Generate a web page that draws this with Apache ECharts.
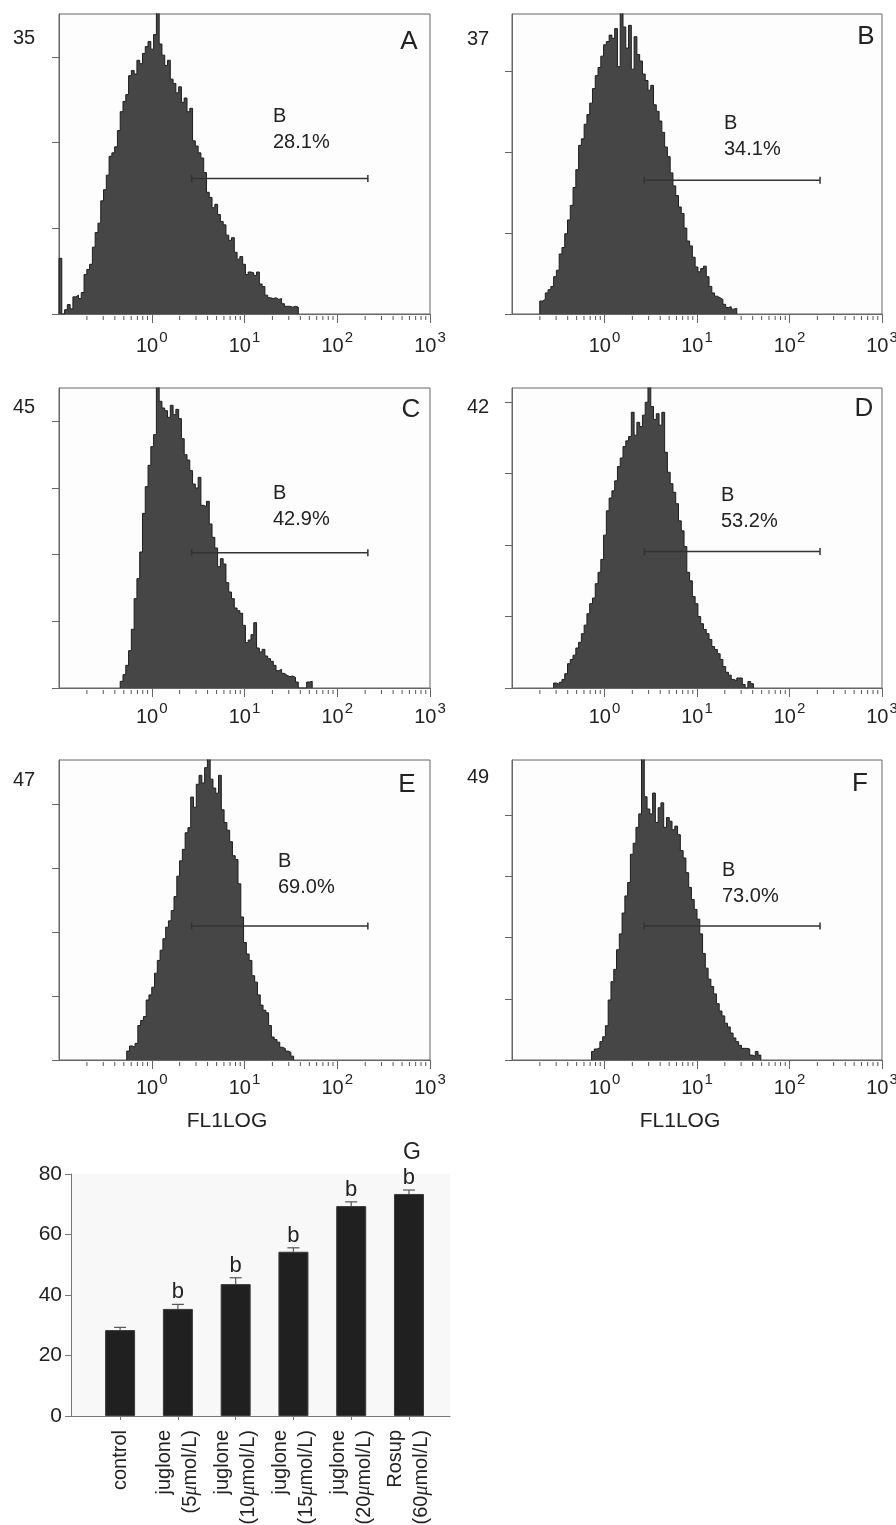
<!DOCTYPE html>
<html>
<head>
<meta charset="utf-8">
<script src="https://cdn.jsdelivr.net/npm/echarts@6/dist/echarts.min.js"></script>
<style>
html, body { margin: 0; padding: 0; background: #fff; }
#chart { width: 896px; height: 1525px; }
</style>
</head>
<body>
<div id="chart"></div>
<script>
const FONT = '"Liberation Sans", Arial, Helvetica, sans-serif'

// histogram panels: counts per bin, bins are 0.03 decade wide on the FL1LOG axis
const binStep = 0.03
const panelNames = ['A', 'B', 'C', 'D', 'E', 'F']
const yMaxes = [35, 37, 45, 42, 47, 49]
const gatePct = ['28.1%', '34.1%', '42.9%', '53.2%', '69.0%', '73.0%']
const gateLevel = [15.8, 16.5, 20.3, 19.1, 21.0, 21.9]
const gateRange = [0.43, 2.33] // log10 units
const histStart = [-1.00, -0.70, -0.34, -0.55, -0.27, -0.14]

const histA = [6.5, 0, 0.5, 1.1, 0.6, 2.0, 2.2, 1.8, 2.5, 4.6, 5.2, 5.8, 7.8, 9.5, 10.6, 13.2, 14.5, 16.2, 18.4, 18.8,
  19.5, 21.4, 23.6, 24.8, 25.6, 27.8, 28.4, 28.0, 29.6, 29.2, 30.4, 31.2, 31.8, 30.9, 32.6, 35.5, 31.5, 30.2, 29.0, 29.6,
  27.4, 26.9, 25.8, 26.5, 24.7, 25.2, 23.6, 24.0, 20.2, 19.6, 18.8, 18.2, 16.5, 14.2, 13.6, 12.4, 12.8, 11.6, 10.8, 10.4,
  9.2, 8.6, 8.9, 7.2, 6.4, 6.7, 5.8, 4.6, 4.9, 4.8, 4.5, 4.9, 3.5, 3.2, 2.2, 1.9, 1.8, 1.9, 1.7, 1.8,
  1.2, 0.9, 0.9, 0.8, 0.9, 0.8, 0]
const histB = [1.6, 1.8, 2.6, 3.0, 3.4, 4.6, 5.4, 7.4, 8.2, 9.9, 11.6, 13.4, 15.6, 17.8, 20.8, 21.6, 23.4, 24.6, 26.0, 27.8,
  29.4, 30.4, 31.8, 33.2, 33.6, 34.4, 34.0, 35.2, 30.5, 37.5, 35.4, 32.8, 35.6, 30.2, 34.2, 32.0, 31.2, 29.6, 28.8, 27.6,
  28.2, 25.8, 25.0, 23.8, 22.4, 20.6, 19.4, 17.4, 15.8, 14.6, 13.2, 12.4, 10.6, 9.0, 8.4, 7.0, 5.8, 5.2, 5.6, 5.9,
  4.6, 3.4, 2.6, 2.2, 2.0, 1.8, 1.2, 0.8, 0.9, 0.6, 0.7, 0]
const histC = [1.0, 2.0, 3.4, 5.6, 8.8, 13.4, 16.4, 20.4, 26.2, 30.2, 33.4, 36.2, 38.0, 46, 43.0, 42.0, 41.6, 40.6, 42.4, 41.0,
  41.8, 40.4, 37.4, 35.0, 34.2, 32.6, 30.6, 30.0, 31.6, 27.4, 27.2, 28.0, 24.6, 22.6, 21.0, 18.2, 19.4, 18.6, 15.8, 14.4,
  13.4, 12.0, 11.6, 11.2, 9.4, 6.8, 7.2, 8.0, 9.8, 6.0, 5.4, 5.8, 4.8, 4.4, 4.0, 3.4, 2.6, 2.8, 2.2, 1.9,
  1.7, 1.8, 1.6, 0.9, 0, 0, 0, 0.9, 1.0, 0]
const histD = [0.7, 0.5, 0.8, 1.2, 2.0, 3.4, 4.0, 4.6, 5.6, 6.4, 7.6, 8.8, 10.4, 11.8, 12.6, 14.6, 16.2, 18.0, 21.4, 24.8,
  26.6, 27.6, 29.0, 31.0, 32.2, 33.8, 34.6, 35.2, 38.6, 35.4, 37.2, 36.6, 38.2, 40.0, 42.6, 39.4, 37.6, 38.4, 36.8, 38.6,
  33.0, 30.2, 28.6, 27.4, 25.8, 23.4, 22.0, 19.8, 16.2, 15.0, 12.8, 11.8, 10.0, 9.0, 8.2, 7.6, 6.8, 5.8, 5.4, 4.8,
  4.0, 3.0, 2.2, 1.8, 1.2, 1.0, 1.4, 1.4, 0.5, 0, 0.9, 0.6, 0]
const histE = [1.4, 2.2, 2.0, 2.6, 5.4, 6.2, 6.8, 9.4, 10.2, 11.4, 13.6, 15.6, 17.2, 19.0, 20.8, 21.8, 23.4, 25.6, 28.8, 31.2,
  33.0, 35.6, 36.4, 41.2, 39.6, 43.2, 44.6, 43.4, 45.8, 47.5, 44.0, 42.6, 41.8, 44.6, 39.2, 37.2, 36.0, 34.2, 32.0, 31.4,
  27.6, 22.4, 18.4, 16.6, 15.6, 13.2, 12.2, 10.2, 8.6, 7.8, 7.4, 5.4, 3.6, 3.2, 2.8, 2.0, 1.8, 1.4, 1.2, 0.6, 0]
const histF = [1.4, 1.8, 2.0, 3.0, 3.8, 5.6, 9.8, 12.8, 14.8, 18.0, 20.6, 24.0, 26.8, 29.0, 33.6, 35.4, 38.0, 40.2, 49.5, 43.0,
  41.0, 40.2, 43.6, 38.8, 41.2, 42.0, 38.0, 39.6, 39.0, 37.6, 38.2, 36.8, 34.2, 33.0, 30.6, 28.2, 26.2, 24.6, 23.0, 20.6,
  17.4, 15.0, 13.2, 12.0, 10.8, 9.2, 8.0, 7.2, 6.0, 5.4, 4.4, 3.6, 3.0, 2.4, 1.9, 1.9, 1.8, 0.8, 0.6, 1.4, 0.8, 0]
const hists = [histA, histB, histC, histD, histE, histF]

// log axis ticks
const decades = [-1, 0, 1, 2]
const minorMults = [2, 3, 4, 5, 6, 7, 8, 9]

// panel G
const barCats = ['control', 'juglone\n(5{mu|μ}mol/L)', 'juglone\n(10{mu|μ}mol/L)', 'juglone\n(15{mu|μ}mol/L)',
  'juglone\n(20{mu|μ}mol/L)', 'Rosup\n(60{mu|μ}mol/L)']
const barVals = [28.4, 35.4, 43.6, 54.3, 69.4, 73.4]
const barSd = [0.9, 1.5, 2.1, 1.3, 1.4, 1.3]
const barSig = ['', 'b', 'b', 'b', 'b', 'b']

// layout
const grids = [
  { left: 59, top: 14, width: 371, height: 300 },
  { left: 512, top: 14, width: 370, height: 300 },
  { left: 59, top: 388, width: 371, height: 300 },
  { left: 512, top: 388, width: 370, height: 300 },
  { left: 59, top: 760, width: 371, height: 300 },
  { left: 512, top: 760, width: 370, height: 300 }
]
const labelMargin = [19, 19, 16, 16, 15, 15]
const letterPos = [[409, 42], [866, 37], [411, 410], [864, 409], [407, 785], [860, 784]]
const maxPos = [[24, 38], [478, 39], [24, 407], [478, 407], [24, 780], [478, 777]]
const gateTextPos = [[273, 103], [724, 110], [273, 480], [721, 482], [278, 848], [722, 857]]

const minorVals = []
decades.forEach(d => minorMults.forEach(m => minorVals.push(d + Math.log10(m))))

const chart = echarts.init(document.getElementById('chart'))

const gridOpt = []
const xAxes = []
const yAxes = []
const series = []
const graphics = []
const axisColor = '#666'

hists.forEach((h, i) => {
  gridOpt.push(Object.assign({ show: true, borderColor: axisColor, borderWidth: 1, backgroundColor: '#fdfdfd', outerBoundsMode: 'none' }, grids[i]))
  xAxes.push({
    gridIndex: i,
    type: 'value',
    min: -1,
    max: 3,
    interval: 1,
    axisLine: { onZero: false, lineStyle: { color: axisColor } },
    axisTick: { length: 9, lineStyle: { color: axisColor } },
    splitLine: { show: false },
    axisLabel: {
      showMinLabel: false,
      margin: labelMargin[i],
      formatter: v => '{b|10}{s|' + v + '}',
      rich: {
        // both tokens get the same box height, padding shifts the exponent up
        b: { fontSize: 20, lineHeight: 20, fontFamily: FONT, color: '#222', padding: [6, 0, 0, 0] },
        s: { fontSize: 15, lineHeight: 15, fontFamily: FONT, color: '#222', padding: [0, 0, 11, 1] }
      }
    }
  })
  const yTicks = []
  for (let t = 0; t <= yMaxes[i]; t += 10) yTicks.push(t)
  yAxes.push({
    gridIndex: i,
    type: 'value',
    min: 0,
    max: yMaxes[i],
    axisLine: { show: true, onZero: false, lineStyle: { color: axisColor } },
    axisTick: { show: true, length: 7, customValues: yTicks, lineStyle: { color: axisColor } },
    axisLabel: { show: false },
    splitLine: { show: false }
  })

  const data = [[histStart[i], 0]]
  h.forEach((v, j) => data.push([+(histStart[i] + j * binStep).toFixed(3), v]))
  series.push({
    type: 'line',
    xAxisIndex: i,
    yAxisIndex: i,
    step: 'end',
    symbol: 'none',
    data: data,
    lineStyle: { color: '#1e1e1e', width: 1 },
    areaStyle: { color: '#464646', opacity: 1 },
    silent: true,
    z: 2
  })
  series.push({
    type: 'line',
    xAxisIndex: i,
    yAxisIndex: i,
    data: gateRange.map(x => [x, gateLevel[i]]),
    symbol: 'rect',
    symbolSize: [1.5, 7],
    itemStyle: { color: '#333' },
    lineStyle: { color: '#333', width: 1.5 },
    silent: true,
    z: 5
  })
  // minor log ticks (2..9 of each decade) placed through the x scale
  series.push({
    type: 'custom',
    xAxisIndex: i,
    yAxisIndex: i,
    data: minorVals.map(v => [v, 0]),
    silent: true,
    z: 6,
    renderItem: (params, api) => {
      const p = api.coord([api.value(0), 0])
      return {
        type: 'line',
        shape: { x1: p[0], y1: p[1] + 2, x2: p[0], y2: p[1] + 6 },
        style: { stroke: '#555', lineWidth: 1 }
      }
    }
  })

  graphics.push({
    type: 'text', x: letterPos[i][0], y: letterPos[i][1],
    style: { text: panelNames[i], font: '26px ' + FONT, fill: '#222', align: 'center', verticalAlign: 'middle' }
  })
  graphics.push({
    type: 'text', x: maxPos[i][0], y: maxPos[i][1],
    style: { text: String(yMaxes[i]), font: '20px ' + FONT, fill: '#222', align: 'center', verticalAlign: 'middle' }
  })
  graphics.push({
    type: 'text', x: gateTextPos[i][0], y: gateTextPos[i][1],
    style: { text: 'B\n' + gatePct[i], font: '20px ' + FONT, lineHeight: 26, fill: '#222', align: 'left', verticalAlign: 'top' }
  })
})

graphics.push({
  type: 'text', x: 227, y: 1121,
  style: { text: 'FL1LOG', font: '21px ' + FONT, fill: '#222', align: 'center', verticalAlign: 'middle' }
})
graphics.push({
  type: 'text', x: 680, y: 1121,
  style: { text: 'FL1LOG', font: '21px ' + FONT, fill: '#222', align: 'center', verticalAlign: 'middle' }
})
graphics.push({
  type: 'text', x: 412, y: 1153,
  style: { text: 'G', font: '23px ' + FONT, fill: '#222', align: 'center', verticalAlign: 'middle' }
})

// panel G
const catIdx = barCats.map((c, i) => i)
gridOpt.push({ left: 71, top: 1174, width: 379, height: 242, show: true, borderWidth: 0, backgroundColor: '#f8f8f8', outerBoundsMode: 'none' })
xAxes.push({
  gridIndex: 6,
  type: 'value',
  min: -0.85,
  max: 5.71,
  axisLine: { onZero: false, lineStyle: { color: '#777' } },
  axisTick: { show: true, length: 4, customValues: catIdx, lineStyle: { color: '#777' } },
  splitLine: { show: false },
  axisLabel: {
    customValues: catIdx,
    rotate: 90,
    margin: 14,
    fontSize: 20,
    lineHeight: 26,
    fontFamily: FONT,
    color: '#222',
    formatter: v => barCats[Math.round(v)],
    rich: {
      mu: { fontSize: 20, lineHeight: 26, fontStyle: 'italic', fontFamily: '"Liberation Serif", serif', color: '#222' }
    }
  }
})
yAxes.push({
  gridIndex: 6,
  type: 'value',
  min: 0,
  max: 80,
  interval: 20,
  axisLine: { show: true, onZero: false, lineStyle: { color: '#777' } },
  axisTick: { show: true, length: 6, lineStyle: { color: '#777' } },
  axisLabel: { fontSize: 21, margin: 9, color: '#222', fontFamily: FONT },
  splitLine: { show: false }
})
series.push({
  type: 'bar',
  xAxisIndex: 6,
  yAxisIndex: 6,
  barWidth: 30,
  data: barVals.map((v, i) => [i, v]),
  itemStyle: { color: '#202020', borderColor: '#3a3a3a', borderWidth: 1 },
  silent: true
})
series.push({
  type: 'custom',
  xAxisIndex: 6,
  yAxisIndex: 6,
  data: barVals.map((v, i) => [i, v, barSd[i]]),
  z: 5,
  silent: true,
  renderItem: (params, api) => {
    const x = api.value(0)
    const v = api.value(1)
    const sd = api.value(2)
    const p0 = api.coord([x, v])
    const p1 = api.coord([x, v + sd])
    const st = { stroke: '#555', lineWidth: 1.2 }
    const children = [
      { type: 'line', shape: { x1: p0[0], y1: p0[1], x2: p1[0], y2: p1[1] }, style: st },
      { type: 'line', shape: { x1: p1[0] - 6, y1: p1[1], x2: p1[0] + 6, y2: p1[1] }, style: st }
    ]
    const sig = barSig[params.dataIndex]
    if (sig) {
      children.push({
        type: 'text', x: p1[0], y: p1[1] - 12,
        style: { text: sig, font: '22px ' + FONT, fill: '#222', align: 'center', verticalAlign: 'middle' }
      })
    }
    return { type: 'group', children: children }
  }
})

chart.setOption({
  animation: false,
  backgroundColor: '#ffffff',
  textStyle: { fontFamily: FONT },
  grid: gridOpt,
  xAxis: xAxes,
  yAxis: yAxes,
  series: series,
  graphic: graphics
})
</script>
</body>
</html>
